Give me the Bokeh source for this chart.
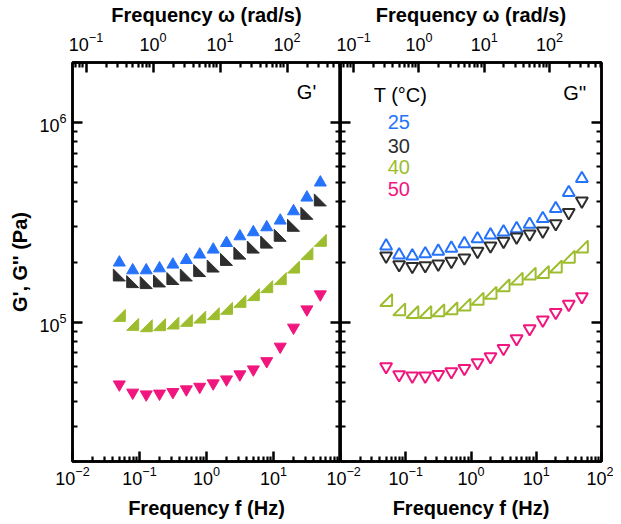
import math
from bokeh.plotting import figure
from bokeh.models import (Range1d, LogScale, LogAxis, FixedTicker, LogTickFormatter,
                          CustomJSTickFormatter)
from bokeh.layouts import row
from bokeh.embed import file_html
from bokeh.resources import INLINE
from bokeh.core.properties import value

# ---------------- data ----------------
freq = [0.05, 0.0792, 0.126, 0.199, 0.315, 0.5, 0.792, 1.26, 1.99, 3.15, 5.0, 7.92, 12.6, 19.9, 31.5, 50.0]
temps = ["25", "30", "40", "50"]
colors = ["#2673fb", "#2e2e2e", "#9dbd2e", "#f0167e"]

gp25 = [198700, 181600, 181600, 185800, 194000, 204600, 217800, 230700, 248900, 269000, 281800, 298500, 322500, 359100, 420600, 500400]
gp30 = [172200, 159500, 157700, 160700, 165300, 172200, 181200, 190900, 206100, 221600, 237600, 251600, 272200, 305500, 350800, 409500]
gp40 = [108000, 97400, 95900, 97000, 98900, 102000, 105900, 110200, 117200, 127000, 137300, 150500, 165100, 188700, 220300, 256900]
gp50 = [48700, 44300, 43400, 43800, 44600, 46000, 47400, 49300, 51600, 54700, 57900, 63700, 75300, 93800, 115800, 137700]

gpp25 = [240500, 216700, 214300, 219800, 226300, 234500, 246800, 261300, 273000, 282600, 293800, 309000, 330200, 370400, 445600, 523600]
gpp30 = [214300, 194100, 190200, 191800, 195500, 201600, 209700, 226300, 241000, 254000, 266700, 276700, 286000, 311200, 353900, 404600]
gpp40 = [128950, 115800, 112250, 112250, 114500, 117200, 122300, 131000, 140400, 152800, 165100, 174900, 178200, 189700, 212800, 238900]
gpp50 = [59750, 54480, 53610, 53610, 54670, 56390, 58590, 62570, 67070, 73830, 82590, 92670, 102300, 111800, 122700, 134100]

f_major = [0.01, 0.1, 1, 10, 100]
w_major = [0.1, 1, 10, 100]
y_major = [1e5, 1e6]

# ---------------- geometry / style ----------------
XMIN, XMAX = 0.01, 100
YMIN, YMAX = 2e4, 2e6
WMIN, WMAX = 2 * math.pi * XMIN, 2 * math.pi * XMAX
FW1, FW2, FH = 268, 261, 399
FONT = "Liberation Sans"

f_minor = [m * 10 ** e for e in range(-2, 2) for m in range(2, 10)]
w_minor = [m * 10 ** e for e in range(-2, 3) for m in range(2, 10) if WMIN < m * 10 ** e < WMAX]
y_minor = [m * 10 ** e for e in range(4, 7) for m in range(2, 10) if YMIN <= m * 10 ** e <= YMAX]


def style(ax, labels=True, standoff=6, title_standoff=6):
    ax.axis_line_width = 2.5
    ax.axis_line_color = "black"
    ax.major_tick_in = 10
    ax.major_tick_out = 0
    ax.minor_tick_in = 5
    ax.minor_tick_out = 0
    ax.major_tick_line_width = 2.5
    ax.minor_tick_line_width = 2.2
    ax.major_label_text_font = FONT
    ax.major_label_text_color = "black"
    ax.axis_label_text_font = FONT
    ax.axis_label_text_font_style = "bold"
    ax.axis_label_text_font_size = "20px"
    ax.axis_label_text_color = "black"
    if labels:
        ax.major_label_text_font_size = "18px"
        ax.major_label_standoff = standoff
        ax.axis_label_standoff = title_standoff
    else:
        ax.formatter = CustomJSTickFormatter(code="return ''")
        ax.major_label_text_font_size = "0px"
        ax.major_label_standoff = 0
    return ax


def make_fig(fw, **kw):
    p = figure(frame_width=fw, frame_height=FH,
               x_range=Range1d(XMIN, XMAX), y_range=Range1d(YMIN, YMAX),
               x_axis_type="log", y_axis_type="log",
               x_axis_location=None, y_axis_location=None,
               toolbar_location=None, output_backend="svg", **kw)
    p.extra_x_ranges = {"w": Range1d(WMIN, WMAX)}
    p.extra_x_scales = {"w": LogScale()}
    p.grid.grid_line_color = None
    p.outline_line_color = "black"
    p.outline_line_width = 2.5
    p.background_fill_color = "white"
    return p


def rtri(xs, ys, kind, fw, half=6.0):
    fx = 10 ** (half / (fw / math.log10(XMAX / XMIN)))
    fy = 10 ** (half / (FH / math.log10(YMAX / YMIN)))
    px, py = [], []
    for x, y in zip(xs, ys):
        if kind == "ll":   # right angle at lower-left
            px.append([x / fx, x / fx, x * fx]); py.append([y * fy, y / fy, y / fy])
        else:              # right angle at lower-right
            px.append([x * fx, x * fx, x / fx]); py.append([y * fy, y / fy, y / fy])
    return px, py


def x_axes(p, fticks):
    p.add_layout(style(LogAxis(ticker=FixedTicker(ticks=fticks, minor_ticks=f_minor),
                               formatter=LogTickFormatter(), axis_label="Frequency f (Hz)"),
                       standoff=4, title_standoff=9), "below")
    p.add_layout(style(LogAxis(x_range_name="w", ticker=FixedTicker(ticks=w_major, minor_ticks=w_minor),
                               formatter=LogTickFormatter(), axis_label="Frequency ω (rad/s)"),
                       standoff=12, title_standoff=3), "above")


# ---------------- left panel: G' ----------------
p1 = make_fig(FW1, min_border_left=72, min_border_right=0, min_border_top=56, min_border_bottom=60)
x_axes(p1, f_major[:-1])
p1.add_layout(style(LogAxis(ticker=FixedTicker(ticks=y_major, minor_ticks=y_minor),
                            formatter=LogTickFormatter(), axis_label="G', G'' (Pa)"),
                    standoff=6, title_standoff=5), "left")
p1.add_layout(style(LogAxis(ticker=FixedTicker(ticks=y_major, minor_ticks=y_minor)), labels=False), "right")

p1.scatter(freq, gp25, marker="triangle", size=12, fill_color=colors[0], line_color=colors[0])
xs, ys = rtri(freq, gp30, "ll", FW1)
p1.patches(xs, ys, fill_color=colors[1], line_color=colors[1], line_width=1)
xs, ys = rtri(freq, gp40, "lr", FW1)
p1.patches(xs, ys, fill_color=colors[2], line_color=colors[2], line_width=1)
p1.scatter(freq, gp50, marker="inverted_triangle", size=12, fill_color=colors[3], line_color=colors[3])

p1.text(x=[31.1], y=[1.415e6], text=["G'"], text_font=value(FONT), text_font_size=value("20px"),
        text_color="black", text_align="center", text_baseline="middle")

# ---------------- right panel: G'' ----------------
p2 = make_fig(FW2, min_border_left=14, min_border_right=12, min_border_top=56, min_border_bottom=60,
              margin=(0, 0, 0, -14))
p2.border_fill_color = None
x_axes(p2, f_major)
p2.add_layout(style(LogAxis(ticker=FixedTicker(ticks=y_major, minor_ticks=y_minor)), labels=False), "left")
p2.add_layout(style(LogAxis(ticker=FixedTicker(ticks=y_major, minor_ticks=y_minor)), labels=False), "right")

p2.scatter(freq, gpp25, marker="triangle", size=12, fill_alpha=0, line_color=colors[0], line_width=2)
p2.scatter(freq, gpp30, marker="inverted_triangle", size=12, fill_alpha=0, line_color=colors[1], line_width=2)
xs, ys = rtri(freq, gpp40, "lr", FW2)
p2.patches(xs, ys, fill_alpha=0, line_color=colors[2], line_width=2)
p2.scatter(freq, gpp50, marker="inverted_triangle", size=12, fill_alpha=0, line_color=colors[3], line_width=2)

p2.text(x=[39.0, 0.0831], y=[1.40e6, 1.37e6], text=["G''", "T (°C)"], text_font=value(FONT),
        text_font_size=value("20px"), text_color="black", text_align="center", text_baseline="middle")
p2.text(x=[0.0782] * 4, y=[1.008e6, 7.65e5, 5.96e5, 4.63e5], text=temps, text_font=value(FONT),
        text_font_size=value("20px"), text_color=colors, text_align="center", text_baseline="middle")

layout = row(p1, p2)
open("out.html", "w").write(file_html(layout, INLINE))
